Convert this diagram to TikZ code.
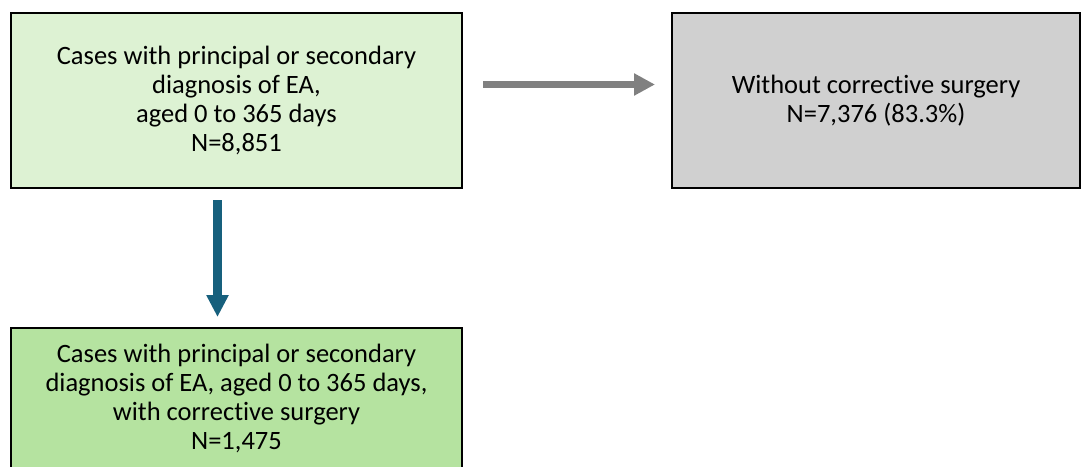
\documentclass[tikz,border=0pt]{standalone}
\usepackage{fontspec}
\setmainfont{Carlito}[Ligatures=NoCommon]
\usetikzlibrary{arrows.meta}
\definecolor{boxA}{HTML}{DDF2D3}
\definecolor{boxB}{HTML}{D0D0D0}
\definecolor{boxC}{HTML}{B5E3A0}
\definecolor{arrGray}{HTML}{808080}
\definecolor{arrBlue}{HTML}{17607D}
\begin{document}
\begin{tikzpicture}[x=1pt,y=-1pt,
  flowbox/.style={draw=black,line width=2pt,inner sep=0pt,outer sep=0pt,
    align=center,font=\fontsize{26.5}{29.3}\selectfont},
  grayarrow/.style={draw=arrGray,line width=7.6pt,
    -{Triangle[width=21pt,length=21pt]}},
  bluearrow/.style={draw=arrBlue,line width=8.4pt,
    -{Triangle[width=21pt,length=22pt]}}]
\useasboundingbox (0,0) rectangle (1081,466);
\node[flowbox,fill=boxA,minimum width=451pt,minimum height=175pt] (b1) at (236.5,100.5)
  {Cases with principal or secondary\\diagnosis of EA,\\aged 0 to 365 days\\N=8,851};
\node[flowbox,fill=boxB,minimum width=408pt,minimum height=175pt] (b2) at (876,100.5)
  {Without corrective surgery\\N=7,376 (83.3\%)};
\node[flowbox,fill=boxC,minimum width=451pt,minimum height=141pt] (b3) at (236.5,398.5)
  {Cases with principal or secondary\\diagnosis of EA, aged 0 to 365 days,\\with corrective surgery\\N=1,475};
\draw[grayarrow] ([xshift=21pt,yshift=16pt]b1.east) -- ([xshift=-17pt,yshift=16pt]b2.west);
\draw[bluearrow] ([xshift=-19pt,yshift=-12pt]b1.south) -- ([xshift=-19pt,yshift=11pt]b3.north);
\end{tikzpicture}
\end{document}
